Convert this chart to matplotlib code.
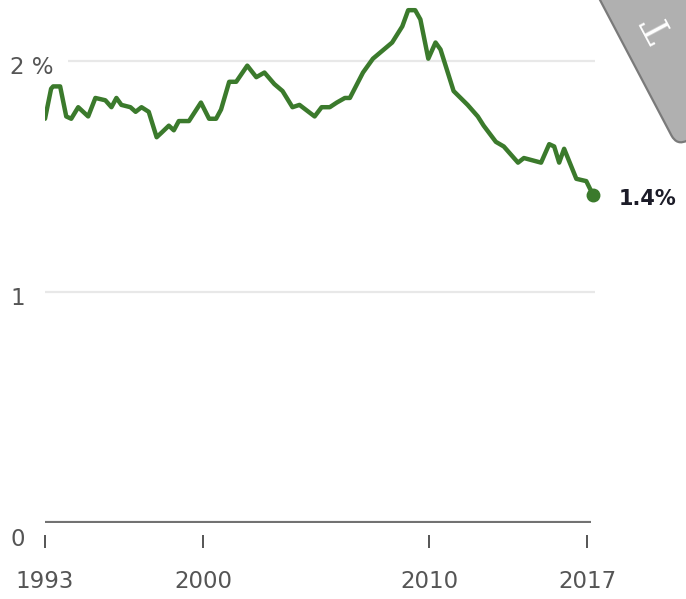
import matplotlib.pyplot as plt
from matplotlib.patches import FancyBboxPatch
from matplotlib.transforms import Affine2D, IdentityTransform

# quarterly share, percent
years = [1993.0, 1993.27, 1993.36, 1993.67, 1993.94, 1994.16, 1994.47, 1994.91,
         1995.23, 1995.67, 1995.94, 1996.16, 1996.38, 1996.78, 1997.01, 1997.27,
         1997.59, 1997.94, 1998.16, 1998.48, 1998.70, 1998.92, 1999.37, 1999.90,
         2000.26, 2000.57, 2000.79, 2001.15, 2001.46, 2001.95, 2002.35, 2002.71,
         2003.15, 2003.51, 2003.95, 2004.26, 2004.93, 2005.24, 2005.60, 2005.91,
         2006.27, 2006.49, 2007.07, 2007.51, 2008.36, 2008.81, 2009.07, 2009.38,
         2009.61, 2009.96, 2010.28, 2010.50, 2011.08, 2011.70, 2012.15, 2012.41,
         2012.95, 2013.30, 2013.93, 2014.19, 2014.95, 2015.31, 2015.53, 2015.75,
         2015.97, 2016.51, 2016.95, 2017.25]
share = [1.75, 1.88, 1.89, 1.89, 1.76, 1.75, 1.80, 1.76,
         1.84, 1.83, 1.80, 1.84, 1.81, 1.80, 1.78, 1.80,
         1.78, 1.67, 1.69, 1.72, 1.70, 1.74, 1.74, 1.82,
         1.75, 1.75, 1.79, 1.91, 1.91, 1.98, 1.93, 1.95,
         1.90, 1.87, 1.80, 1.81, 1.76, 1.80, 1.80, 1.82,
         1.84, 1.84, 1.95, 2.01, 2.08, 2.15, 2.22, 2.22,
         2.18, 2.01, 2.08, 2.05, 1.87, 1.81, 1.76, 1.72,
         1.65, 1.63, 1.56, 1.58, 1.56, 1.64, 1.63, 1.56,
         1.62, 1.49, 1.48, 1.42]

tick_years = [1993, 2000, 2010, 2017]
y_ticks = [0, 1, 2]
y_labels = ['0', '1', '2 %']
last_label = '1.4%'

green = '#3b7a2c'
grey = '#555555'

fig = plt.figure(figsize=(6.86, 5.99), dpi=100)
ax = fig.add_axes([45 / 686, 1 - 523 / 599, 550 / 686, 518 / 599])
ax.set_xlim(1993, 1993 + 550 / 22.6)
ax.set_ylim(0, 518 / 231)

for s in ['top', 'right', 'left']:
    ax.spines[s].set_visible(False)
ax.spines['bottom'].set_position(('outward', 8.6))
ax.spines['bottom'].set_visible(False)

ax.set_xticks(tick_years)
ax.tick_params(axis='x', direction='out', length=9.4, width=1.4, color=grey,
               labelsize=16.5, labelcolor=grey, pad=16)
ax.set_yticks([])

# light gridlines, dark baseline
ax.hlines(2, 1994.0, ax.get_xlim()[1], color='#e8e8e8', lw=1.6, zorder=1)
ax.hlines(1, 1993.0, ax.get_xlim()[1], color='#e8e8e8', lw=1.6, zorder=1)
ax.hlines(0, years[0], years[-1] - 0.1, color='#727272', lw=3, zorder=2)

for v, lab in zip(y_ticks, y_labels):
    ax.annotate(lab, xy=(0, v), xycoords=('axes fraction', 'data'),
                xytext=(-25, -5 if v else -12), textcoords='offset points',
                ha='left', va='center', fontsize=16.5, color=grey,
                annotation_clip=False)

ax.plot(years, share, color=green, lw=3.2, solid_joinstyle='round',
        solid_capstyle='round', zorder=3)
ax.plot(years[-1], share[-1], 'o', ms=9, color=green, clip_on=False, zorder=4)
ax.annotate(last_label, xy=(years[-1], share[-1]), xytext=(18.5, -3),
            textcoords='offset points', ha='left', va='center', fontsize=15,
            fontweight='bold', color='#1c1c28', annotation_clip=False)

# grey corner stamp
stamp = FancyBboxPatch((0, 0), 160, 260, boxstyle='round,pad=0,rounding_size=12',
                       facecolor='#b0b0b0', edgecolor='#7a7a7a', lw=1.6,
                       transform=Affine2D().rotate_deg(27.8).translate(677, 453)
                       + IdentityTransform())
fig.add_artist(stamp)
fig.text(660 / 686, 1 - 27 / 599, 'T', rotation=118, fontsize=27,
         family='DejaVu Serif', color='white', ha='center', va='center',
         rotation_mode='anchor')

fig.savefig('out.png', dpi=100)
